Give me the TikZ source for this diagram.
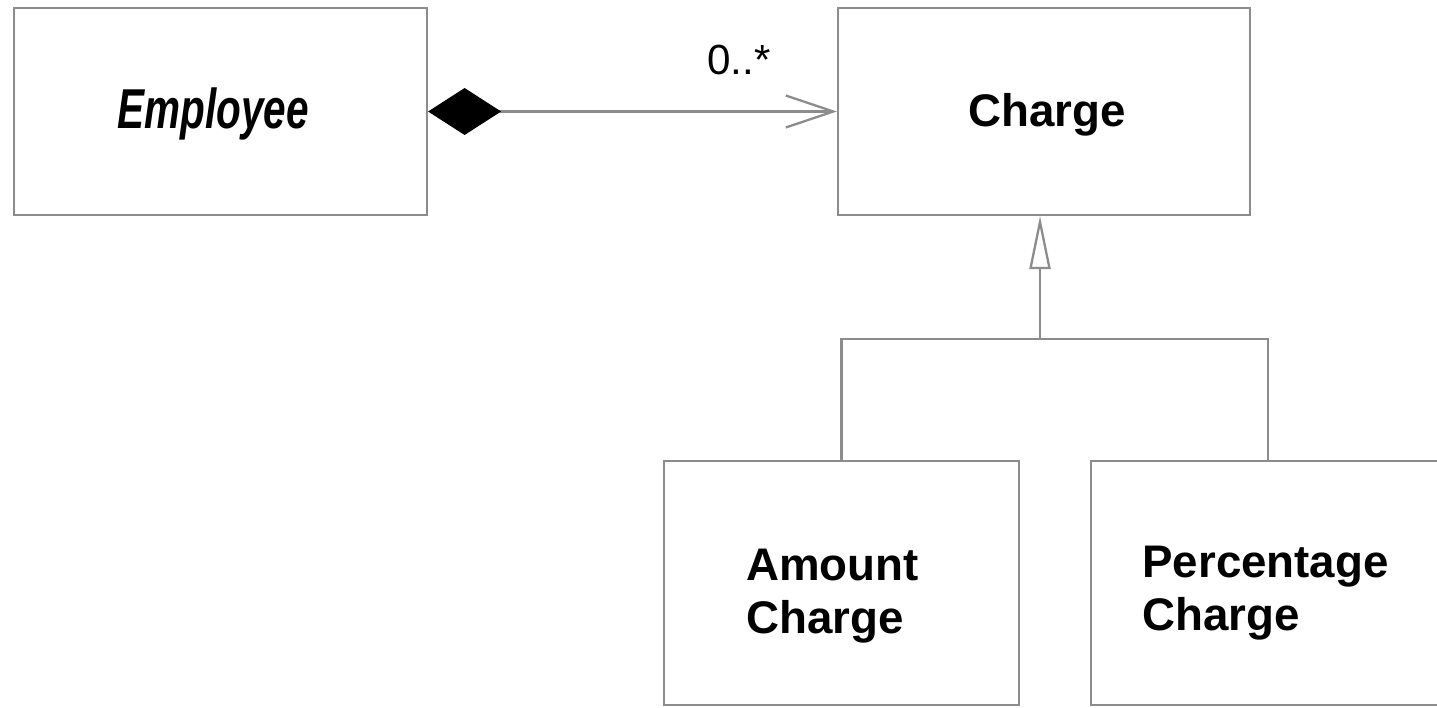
\documentclass[tikz,border=0pt]{standalone}
\usepackage{fontspec}
\setmainfont{Liberation Sans}
\newfontfamily\empfont[FakeStretch=0.72]{Liberation Sans}
\usetikzlibrary{arrows.meta}
\definecolor{linegray}{RGB}{140,140,140}
\begin{document}
\begin{tikzpicture}[x=0.02cm,y=-0.02cm,
  umlbox/.style={draw=linegray,line width=1.3pt,fill=white,inner sep=0pt},
  cname/.style={font=\fontsize{26}{30}\selectfont\bfseries,align=left,inner sep=0pt,anchor=base west},
  conn/.style={draw=linegray,line width=1.3pt},
  assoc/.style={conn,{Diamond[color=black,length=1.46cm,width=0.94cm]}-{Straight Barb[length=0.95cm,width=0.64cm,line width=1.3pt]}},
  gen/.style={conn,-{Triangle[open,fill=white,length=1.06cm,width=0.42cm,line width=1.3pt]}}]
\clip (0,0) rectangle (1437,707);
\fill[white] (0,0) rectangle (1437,707);
\node[umlbox,minimum width=8.26cm,minimum height=4.14cm] (emp) at (220.5,111.5) {};
\node[cname,font=\fontsize{32}{36}\selectfont\empfont\bfseries\itshape] (empt) at (117,128) {Employee};
\node[umlbox,minimum width=8.24cm,minimum height=4.14cm] (chg) at (1044,111.5) {};
\node[cname] (chgt) at (968,126) {Charge};
\node[umlbox,minimum width=7.1cm,minimum height=4.88cm] (amt) at (841.5,583) {};
\node[cname] (amtt) at (746,633) {Amount\\Charge};
\node[umlbox,minimum width=7.08cm,minimum height=4.88cm] (pct) at (1268,583) {};
\node[cname] (pctt) at (1142,630) {Percentage\\Charge};
\draw[assoc] (emp.east) -- (chg.west);
\node[font=\fontsize{24}{28}\selectfont,inner sep=0pt,anchor=base west] (mult) at (707,74) {0..*};
\coordinate (bus) at (1040,339);
\draw[gen] (bus) -- (bus |- chg.south);
\draw[conn] (amt.north) |- (bus) -| (pct.north);
\end{tikzpicture}
\end{document}
